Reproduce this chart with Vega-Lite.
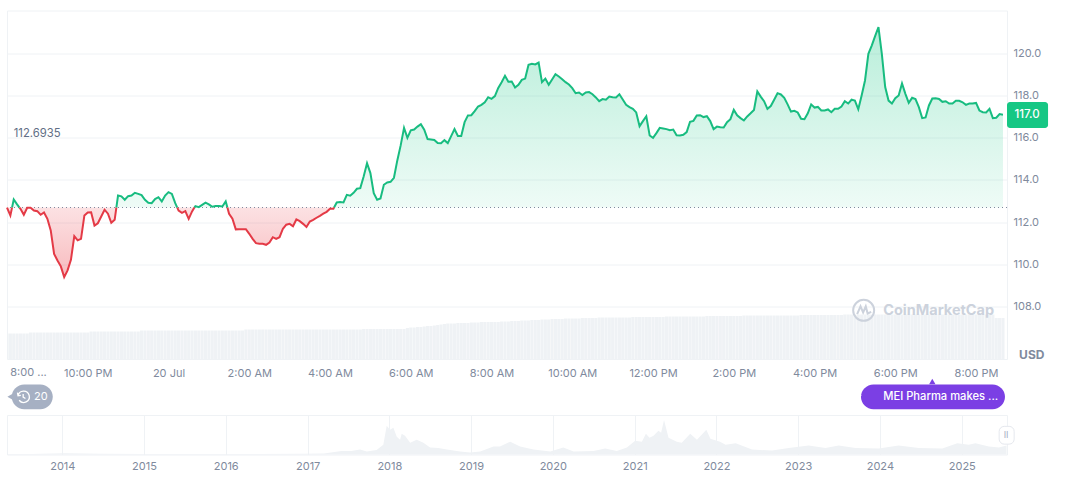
{
"$schema":"https://vega.github.io/schema/vega-lite/v6.json",
"padding":{"left":2,"top":9.5,"right":0,"bottom":0},
"background":"#ffffff",
"bounds":"flush",
"spacing":55.5,
"config":{"view":{"stroke":"#eff2f5"},"text":{"font":"Inter"},"axis":{"labelFont":"Inter","labelFontSize":11,"labelColor":"#808a9d","title":null,"ticks":false,"domain":false}},
"datasets":{
"price":[
{"t":"2025-07-19T20:00Z","up":112.69,"down":112.69,"vol":25.5},
{"t":"2025-07-19T20:05Z","down":112.32,"vol":25.5},
{"t":"2025-07-19T20:07:30Z","up":112.69,"down":112.69},
{"t":"2025-07-19T20:10Z","up":113.07,"vol":25.5},
{"t":"2025-07-19T20:15Z","up":112.84,"vol":25.5},
{"t":"2025-07-19T20:18:30Z","up":112.69,"down":112.69},
{"t":"2025-07-19T20:20Z","down":112.63,"vol":25.5},
{"t":"2025-07-19T20:25Z","down":112.35,"vol":25.5},
{"t":"2025-07-19T20:30Z","down":112.68,"vol":25.5},
{"t":"2025-07-19T20:35Z","down":112.68,"vol":26.5},
{"t":"2025-07-19T20:40Z","down":112.55,"vol":26.5},
{"t":"2025-07-19T20:45Z","down":112.52,"vol":26.5},
{"t":"2025-07-19T20:50Z","down":112.35,"vol":26.5},
{"t":"2025-07-19T20:55Z","down":112.46,"vol":26.5},
{"t":"2025-07-19T21:00Z","down":112.16,"vol":26.5},
{"t":"2025-07-19T21:05Z","down":111.61,"vol":26.5},
{"t":"2025-07-19T21:10Z","down":110.5,"vol":26.5},
{"t":"2025-07-19T21:15Z","down":110.19,"vol":26.5},
{"t":"2025-07-19T21:20Z","down":109.91,"vol":26.5},
{"t":"2025-07-19T21:25Z","down":109.4,"vol":26.5},
{"t":"2025-07-19T21:30Z","down":109.72,"vol":26.5},
{"t":"2025-07-19T21:35Z","down":110.22,"vol":26.5},
{"t":"2025-07-19T21:40Z","down":111.34,"vol":26.5},
{"t":"2025-07-19T21:45Z","down":111.14,"vol":26.5},
{"t":"2025-07-19T21:50Z","down":111.21,"vol":26.5},
{"t":"2025-07-19T21:55Z","down":112.32,"vol":26.5},
{"t":"2025-07-19T22:00Z","down":112.46,"vol":26.5},
{"t":"2025-07-19T22:05Z","down":112.47,"vol":27.5},
{"t":"2025-07-19T22:10Z","down":111.84,"vol":27.5},
{"t":"2025-07-19T22:15Z","down":111.95,"vol":27.5},
{"t":"2025-07-19T22:20Z","down":112.27,"vol":27.5},
{"t":"2025-07-19T22:25Z","down":112.59,"vol":27.5},
{"t":"2025-07-19T22:30Z","down":112.4,"vol":27.5},
{"t":"2025-07-19T22:35Z","down":111.97,"vol":27.5},
{"t":"2025-07-19T22:40Z","down":112.11,"vol":27.5},
{"t":"2025-07-19T22:42:30Z","up":112.69,"down":112.69},
{"t":"2025-07-19T22:45Z","up":113.26,"vol":27.5},
{"t":"2025-07-19T22:50Z","up":113.22,"vol":27.5},
{"t":"2025-07-19T22:55Z","up":113.06,"vol":27.5},
{"t":"2025-07-19T23:00Z","up":113.23,"vol":27.5},
{"t":"2025-07-19T23:05Z","up":113.26,"vol":27.5},
{"t":"2025-07-19T23:10Z","up":113.39,"vol":27.5},
{"t":"2025-07-19T23:15Z","up":113.34,"vol":27.5},
{"t":"2025-07-19T23:20Z","up":113.28,"vol":28.5},
{"t":"2025-07-19T23:25Z","up":113.06,"vol":28.5},
{"t":"2025-07-19T23:30Z","up":112.92,"vol":28.5},
{"t":"2025-07-19T23:35Z","up":112.9,"vol":28.5},
{"t":"2025-07-19T23:40Z","up":113.09,"vol":28.5},
{"t":"2025-07-19T23:45Z","up":113.18,"vol":28.5},
{"t":"2025-07-19T23:50Z","up":112.98,"vol":28.5},
{"t":"2025-07-19T23:55Z","up":113.26,"vol":28.5},
{"t":"2025-07-20T00:00Z","up":113.42,"vol":28.5},
{"t":"2025-07-20T00:05Z","up":113.34,"vol":28.5},
{"t":"2025-07-20T00:10Z","up":112.9,"vol":28.5},
{"t":"2025-07-20T00:13Z","up":112.69,"down":112.69},
{"t":"2025-07-20T00:15Z","down":112.55,"vol":28.5},
{"t":"2025-07-20T00:20Z","down":112.44,"vol":28.5},
{"t":"2025-07-20T00:25Z","down":112.52,"vol":28.5},
{"t":"2025-07-20T00:30Z","down":112.16,"vol":28.5},
{"t":"2025-07-20T00:35Z","down":112.51,"vol":28.5},
{"t":"2025-07-20T00:38:30Z","up":112.69,"down":112.69},
{"t":"2025-07-20T00:40Z","up":112.76,"vol":28.5},
{"t":"2025-07-20T00:45Z","up":112.71,"vol":28.5},
{"t":"2025-07-20T00:50Z","up":112.82,"vol":28.5},
{"t":"2025-07-20T00:55Z","up":112.92,"vol":28.5},
{"t":"2025-07-20T01:00Z","up":112.84,"vol":28.5},
{"t":"2025-07-20T01:05Z","up":112.73,"vol":28.5},
{"t":"2025-07-20T01:10Z","up":112.76,"vol":28.5},
{"t":"2025-07-20T01:15Z","up":112.76,"vol":28.5},
{"t":"2025-07-20T01:20Z","up":112.74,"vol":28.5},
{"t":"2025-07-20T01:25Z","up":112.98,"vol":28.5},
{"t":"2025-07-20T01:27:30Z","up":112.69,"down":112.69},
{"t":"2025-07-20T01:30Z","down":112.4,"vol":28.5},
{"t":"2025-07-20T01:35Z","down":112.16,"vol":28.5},
{"t":"2025-07-20T01:40Z","down":111.66,"vol":28.5},
{"t":"2025-07-20T01:45Z","down":111.67,"vol":28.5},
{"t":"2025-07-20T01:50Z","down":111.67,"vol":28.5},
{"t":"2025-07-20T01:55Z","down":111.67,"vol":29.5},
{"t":"2025-07-20T02:00Z","down":111.45,"vol":29.5},
{"t":"2025-07-20T02:05Z","down":111.21,"vol":29.5},
{"t":"2025-07-20T02:10Z","down":111.01,"vol":29.5},
{"t":"2025-07-20T02:15Z","down":110.98,"vol":29.5},
{"t":"2025-07-20T02:20Z","down":110.98,"vol":29.5},
{"t":"2025-07-20T02:25Z","down":110.93,"vol":29.5},
{"t":"2025-07-20T02:30Z","down":111.04,"vol":29.5},
{"t":"2025-07-20T02:35Z","down":111.29,"vol":29.5},
{"t":"2025-07-20T02:40Z","down":111.21,"vol":29.5},
{"t":"2025-07-20T02:45Z","down":111.29,"vol":29.5},
{"t":"2025-07-20T02:50Z","down":111.69,"vol":29.5},
{"t":"2025-07-20T02:55Z","down":111.88,"vol":29.5},
{"t":"2025-07-20T03:00Z","down":111.92,"vol":29.5},
{"t":"2025-07-20T03:05Z","down":111.81,"vol":29.5},
{"t":"2025-07-20T03:10Z","down":112.13,"vol":29.5},
{"t":"2025-07-20T03:15Z","down":112.05,"vol":29.5},
{"t":"2025-07-20T03:20Z","down":111.92,"vol":29.5},
{"t":"2025-07-20T03:25Z","down":111.77,"vol":29.5},
{"t":"2025-07-20T03:30Z","down":112.03,"vol":29.5},
{"t":"2025-07-20T03:35Z","down":112.11,"vol":29.5},
{"t":"2025-07-20T03:40Z","down":112.21,"vol":29.5},
{"t":"2025-07-20T03:45Z","down":112.3,"vol":29.5},
{"t":"2025-07-20T03:50Z","down":112.4,"vol":29.5},
{"t":"2025-07-20T03:55Z","down":112.49,"vol":29.5},
{"t":"2025-07-20T04:00Z","down":112.63,"vol":29.5},
{"t":"2025-07-20T04:05Z","down":112.63,"vol":29.5},
{"t":"2025-07-20T04:06Z","up":112.69,"down":112.69},
{"t":"2025-07-20T04:10Z","up":112.93,"vol":29.5},
{"t":"2025-07-20T04:15Z","up":112.95,"vol":29.5},
{"t":"2025-07-20T04:20Z","up":112.93,"vol":29.5},
{"t":"2025-07-20T04:25Z","up":113.29,"vol":29.5},
{"t":"2025-07-20T04:30Z","up":113.25,"vol":29.5},
{"t":"2025-07-20T04:35Z","up":113.39,"vol":29.5},
{"t":"2025-07-20T04:40Z","up":113.58,"vol":29.5},
{"t":"2025-07-20T04:45Z","up":113.61,"vol":29.5},
{"t":"2025-07-20T04:50Z","up":114.16,"vol":30},
{"t":"2025-07-20T04:55Z","up":114.79,"vol":30},
{"t":"2025-07-20T05:00Z","up":114.32,"vol":30},
{"t":"2025-07-20T05:05Z","up":113.37,"vol":30},
{"t":"2025-07-20T05:10Z","up":113.06,"vol":30},
{"t":"2025-07-20T05:15Z","up":113.12,"vol":30},
{"t":"2025-07-20T05:20Z","up":113.77,"vol":30},
{"t":"2025-07-20T05:25Z","up":113.88,"vol":30},
{"t":"2025-07-20T05:30Z","up":113.91,"vol":30},
{"t":"2025-07-20T05:35Z","up":114.1,"vol":30},
{"t":"2025-07-20T05:40Z","up":114.92,"vol":30},
{"t":"2025-07-20T05:45Z","up":115.63,"vol":30},
{"t":"2025-07-20T05:50Z","up":116.46,"vol":30},
{"t":"2025-07-20T05:55Z","up":115.99,"vol":31},
{"t":"2025-07-20T06:00Z","up":116.34,"vol":31.5},
{"t":"2025-07-20T06:05Z","up":116.38,"vol":31.5},
{"t":"2025-07-20T06:10Z","up":116.52,"vol":32},
{"t":"2025-07-20T06:15Z","up":116.63,"vol":32},
{"t":"2025-07-20T06:20Z","up":116.37,"vol":32.5},
{"t":"2025-07-20T06:25Z","up":115.93,"vol":33},
{"t":"2025-07-20T06:30Z","up":115.91,"vol":33},
{"t":"2025-07-20T06:35Z","up":115.89,"vol":33.5},
{"t":"2025-07-20T06:40Z","up":115.74,"vol":34},
{"t":"2025-07-20T06:45Z","up":115.73,"vol":34.5},
{"t":"2025-07-20T06:50Z","up":115.88,"vol":35},
{"t":"2025-07-20T06:55Z","up":115.74,"vol":35.5},
{"t":"2025-07-20T07:00Z","up":116.07,"vol":35.5},
{"t":"2025-07-20T07:05Z","up":116.4,"vol":35.5},
{"t":"2025-07-20T07:10Z","up":116.08,"vol":36},
{"t":"2025-07-20T07:15Z","up":116.08,"vol":36},
{"t":"2025-07-20T07:20Z","up":116.73,"vol":36},
{"t":"2025-07-20T07:25Z","up":117.05,"vol":36},
{"t":"2025-07-20T07:30Z","up":117.06,"vol":36.5},
{"t":"2025-07-20T07:35Z","up":117.25,"vol":36.5},
{"t":"2025-07-20T07:40Z","up":117.47,"vol":36.5},
{"t":"2025-07-20T07:45Z","up":117.55,"vol":37},
{"t":"2025-07-20T07:50Z","up":117.67,"vol":37},
{"t":"2025-07-20T07:55Z","up":117.91,"vol":37},
{"t":"2025-07-20T08:00Z","up":117.83,"vol":37},
{"t":"2025-07-20T08:05Z","up":117.96,"vol":37},
{"t":"2025-07-20T08:10Z","up":118.35,"vol":37},
{"t":"2025-07-20T08:15Z","up":118.62,"vol":37.5},
{"t":"2025-07-20T08:20Z","up":118.92,"vol":37.5},
{"t":"2025-07-20T08:25Z","up":118.64,"vol":37.5},
{"t":"2025-07-20T08:30Z","up":118.65,"vol":38},
{"t":"2025-07-20T08:35Z","up":118.37,"vol":38},
{"t":"2025-07-20T08:40Z","up":118.5,"vol":38},
{"t":"2025-07-20T08:45Z","up":118.73,"vol":38.5},
{"t":"2025-07-20T08:50Z","up":118.79,"vol":38.5},
{"t":"2025-07-20T08:55Z","up":119.44,"vol":38.5},
{"t":"2025-07-20T09:00Z","up":119.49,"vol":39},
{"t":"2025-07-20T09:05Z","up":119.46,"vol":39},
{"t":"2025-07-20T09:10Z","up":119.55,"vol":39},
{"t":"2025-07-20T09:15Z","up":118.62,"vol":39.5},
{"t":"2025-07-20T09:20Z","up":118.79,"vol":39.5},
{"t":"2025-07-20T09:25Z","up":118.5,"vol":39.5},
{"t":"2025-07-20T09:30Z","up":118.75,"vol":40},
{"t":"2025-07-20T09:35Z","up":119.0,"vol":40},
{"t":"2025-07-20T09:40Z","up":118.89,"vol":40},
{"t":"2025-07-20T09:45Z","up":118.76,"vol":40},
{"t":"2025-07-20T09:50Z","up":118.62,"vol":40.5},
{"t":"2025-07-20T09:55Z","up":118.51,"vol":40.5},
{"t":"2025-07-20T10:00Z","up":118.34,"vol":40.5},
{"t":"2025-07-20T10:05Z","up":118.1,"vol":40.5},
{"t":"2025-07-20T10:10Z","up":118.13,"vol":40.5},
{"t":"2025-07-20T10:15Z","up":118.01,"vol":41},
{"t":"2025-07-20T10:20Z","up":118.13,"vol":41},
{"t":"2025-07-20T10:25Z","up":118.15,"vol":41},
{"t":"2025-07-20T10:30Z","up":118.05,"vol":41},
{"t":"2025-07-20T10:35Z","up":117.9,"vol":41},
{"t":"2025-07-20T10:40Z","up":117.72,"vol":41.5},
{"t":"2025-07-20T10:45Z","up":117.82,"vol":41.5},
{"t":"2025-07-20T10:50Z","up":117.79,"vol":41.5},
{"t":"2025-07-20T10:55Z","up":117.94,"vol":41.5},
{"t":"2025-07-20T11:00Z","up":117.91,"vol":41.5},
{"t":"2025-07-20T11:05Z","up":117.9,"vol":41.5},
{"t":"2025-07-20T11:10Z","up":118.05,"vol":41.5},
{"t":"2025-07-20T11:15Z","up":117.8,"vol":41.5},
{"t":"2025-07-20T11:20Z","up":117.55,"vol":41.5},
{"t":"2025-07-20T11:25Z","up":117.44,"vol":41.5},
{"t":"2025-07-20T11:30Z","up":117.36,"vol":42},
{"t":"2025-07-20T11:35Z","up":117.19,"vol":42},
{"t":"2025-07-20T11:40Z","up":116.54,"vol":42},
{"t":"2025-07-20T11:45Z","up":116.78,"vol":42},
{"t":"2025-07-20T11:50Z","up":117.01,"vol":42},
{"t":"2025-07-20T11:55Z","up":116.1,"vol":42},
{"t":"2025-07-20T12:00Z","up":115.99,"vol":42},
{"t":"2025-07-20T12:05Z","up":116.21,"vol":42},
{"t":"2025-07-20T12:10Z","up":116.46,"vol":42},
{"t":"2025-07-20T12:15Z","up":116.43,"vol":42},
{"t":"2025-07-20T12:20Z","up":116.4,"vol":42.5},
{"t":"2025-07-20T12:25Z","up":116.35,"vol":42.5},
{"t":"2025-07-20T12:30Z","up":116.38,"vol":42.5},
{"t":"2025-07-20T12:35Z","up":116.11,"vol":42.5},
{"t":"2025-07-20T12:40Z","up":116.1,"vol":42.5},
{"t":"2025-07-20T12:45Z","up":116.13,"vol":42.5},
{"t":"2025-07-20T12:50Z","up":116.26,"vol":42.5},
{"t":"2025-07-20T12:55Z","up":116.75,"vol":42.5},
{"t":"2025-07-20T13:00Z","up":116.79,"vol":42.5},
{"t":"2025-07-20T13:05Z","up":117.05,"vol":42.5},
{"t":"2025-07-20T13:10Z","up":117.06,"vol":42.5},
{"t":"2025-07-20T13:15Z","up":116.97,"vol":42.5},
{"t":"2025-07-20T13:20Z","up":117.01,"vol":43},
{"t":"2025-07-20T13:25Z","up":116.78,"vol":43},
{"t":"2025-07-20T13:30Z","up":116.4,"vol":43},
{"t":"2025-07-20T13:35Z","up":116.52,"vol":43},
{"t":"2025-07-20T13:40Z","up":116.49,"vol":43},
{"t":"2025-07-20T13:45Z","up":116.48,"vol":43},
{"t":"2025-07-20T13:50Z","up":116.73,"vol":43},
{"t":"2025-07-20T13:55Z","up":116.87,"vol":43},
{"t":"2025-07-20T14:00Z","up":117.31,"vol":43},
{"t":"2025-07-20T14:05Z","up":117.05,"vol":43},
{"t":"2025-07-20T14:10Z","up":116.92,"vol":43},
{"t":"2025-07-20T14:15Z","up":116.81,"vol":43.5},
{"t":"2025-07-20T14:20Z","up":117.0,"vol":43.5},
{"t":"2025-07-20T14:25Z","up":117.15,"vol":43.5},
{"t":"2025-07-20T14:30Z","up":117.31,"vol":43.5},
{"t":"2025-07-20T14:35Z","up":118.18,"vol":43.5},
{"t":"2025-07-20T14:40Z","up":117.94,"vol":43.5},
{"t":"2025-07-20T14:45Z","up":117.72,"vol":43.5},
{"t":"2025-07-20T14:50Z","up":117.36,"vol":43.5},
{"t":"2025-07-20T14:55Z","up":117.49,"vol":43.5},
{"t":"2025-07-20T15:00Z","up":117.79,"vol":43.5},
{"t":"2025-07-20T15:05Z","up":118.1,"vol":43.5},
{"t":"2025-07-20T15:10Z","up":118.04,"vol":43.5},
{"t":"2025-07-20T15:15Z","up":117.88,"vol":43.5},
{"t":"2025-07-20T15:20Z","up":117.57,"vol":43.5},
{"t":"2025-07-20T15:25Z","up":117.23,"vol":43.5},
{"t":"2025-07-20T15:30Z","up":117.27,"vol":43.5},
{"t":"2025-07-20T15:35Z","up":117.19,"vol":43.5},
{"t":"2025-07-20T15:40Z","up":116.89,"vol":44},
{"t":"2025-07-20T15:45Z","up":116.87,"vol":44},
{"t":"2025-07-20T15:50Z","up":117.15,"vol":44},
{"t":"2025-07-20T15:55Z","up":117.57,"vol":44},
{"t":"2025-07-20T16:00Z","up":117.42,"vol":44},
{"t":"2025-07-20T16:05Z","up":117.45,"vol":44},
{"t":"2025-07-20T16:10Z","up":117.28,"vol":44},
{"t":"2025-07-20T16:15Z","up":117.28,"vol":44},
{"t":"2025-07-20T16:20Z","up":117.33,"vol":44},
{"t":"2025-07-20T16:25Z","up":117.2,"vol":44},
{"t":"2025-07-20T16:30Z","up":117.36,"vol":44},
{"t":"2025-07-20T16:35Z","up":117.36,"vol":44},
{"t":"2025-07-20T16:40Z","up":117.47,"vol":44},
{"t":"2025-07-20T16:45Z","up":117.72,"vol":44.5},
{"t":"2025-07-20T16:50Z","up":117.61,"vol":44.5},
{"t":"2025-07-20T16:55Z","up":117.79,"vol":44.5},
{"t":"2025-07-20T17:00Z","up":117.75,"vol":44.5},
{"t":"2025-07-20T17:05Z","up":117.34,"vol":44.5},
{"t":"2025-07-20T17:10Z","up":117.99,"vol":44.5},
{"t":"2025-07-20T17:15Z","up":118.7,"vol":44.5},
{"t":"2025-07-20T17:20Z","up":119.96,"vol":44.5},
{"t":"2025-07-20T17:25Z","up":120.35,"vol":44.5},
{"t":"2025-07-20T17:30Z","up":120.8,"vol":44.5},
{"t":"2025-07-20T17:35Z","up":121.22,"vol":44.5},
{"t":"2025-07-20T17:40Z","up":119.96,"vol":44.5},
{"t":"2025-07-20T17:45Z","up":118.39,"vol":44.5},
{"t":"2025-07-20T17:50Z","up":117.75,"vol":44.5},
{"t":"2025-07-20T17:55Z","up":117.61,"vol":44.5},
{"t":"2025-07-20T18:00Z","up":117.86,"vol":44.5},
{"t":"2025-07-20T18:05Z","up":117.99,"vol":44.5},
{"t":"2025-07-20T18:10Z","up":118.56,"vol":44.5},
{"t":"2025-07-20T18:15Z","up":118.07,"vol":44.5},
{"t":"2025-07-20T18:20Z","up":117.64,"vol":44.5},
{"t":"2025-07-20T18:25Z","up":117.88,"vol":44.5},
{"t":"2025-07-20T18:30Z","up":117.82,"vol":44.5},
{"t":"2025-07-20T18:35Z","up":117.44,"vol":44.5},
{"t":"2025-07-20T18:40Z","up":116.92,"vol":44.5},
{"t":"2025-07-20T18:45Z","up":116.95,"vol":44.5},
{"t":"2025-07-20T18:50Z","up":117.52,"vol":44.5},
{"t":"2025-07-20T18:55Z","up":117.85,"vol":44.5},
{"t":"2025-07-20T19:00Z","up":117.86,"vol":44.5},
{"t":"2025-07-20T19:05Z","up":117.83,"vol":44.5},
{"t":"2025-07-20T19:10Z","up":117.69,"vol":44.5},
{"t":"2025-07-20T19:15Z","up":117.72,"vol":44.5},
{"t":"2025-07-20T19:20Z","up":117.61,"vol":44.5},
{"t":"2025-07-20T19:25Z","up":117.61,"vol":44.5},
{"t":"2025-07-20T19:30Z","up":117.74,"vol":44.5},
{"t":"2025-07-20T19:35Z","up":117.74,"vol":44.5},
{"t":"2025-07-20T19:40Z","up":117.67,"vol":44.5},
{"t":"2025-07-20T19:45Z","up":117.55,"vol":44.5},
{"t":"2025-07-20T19:50Z","up":117.61,"vol":44.5},
{"t":"2025-07-20T19:55Z","up":117.61,"vol":44.5},
{"t":"2025-07-20T20:00Z","up":117.64,"vol":44.5},
{"t":"2025-07-20T20:05Z","up":117.28,"vol":44.5},
{"t":"2025-07-20T20:10Z","up":117.2,"vol":44.5},
{"t":"2025-07-20T20:15Z","up":117.19,"vol":44.5},
{"t":"2025-07-20T20:20Z","up":117.36,"vol":44.5},
{"t":"2025-07-20T20:25Z","up":116.92,"vol":44.5},
{"t":"2025-07-20T20:30Z","up":116.94,"vol":41},
{"t":"2025-07-20T20:35Z","up":117.11,"vol":41},
{"t":"2025-07-20T20:40Z","up":117.08,"vol":41}
],
"history":[
{"d":"2013-04-29","v":0.4},{"d":"2013-08-15","v":0.6},{"d":"2014-01-15","v":1.2},{"d":"2014-06-15","v":0.8},{"d":"2015-01-15","v":0.6},{"d":"2016-01-15","v":0.5},{"d":"2016-12-15","v":0.7},{"d":"2017-03-15","v":1},{"d":"2017-05-01","v":2.5},{"d":"2017-06-01","v":3.5},{"d":"2017-07-15","v":3.5},
{"d":"2017-08-23","v":5},{"d":"2017-09-22","v":3},{"d":"2017-11-05","v":4.5},{"d":"2017-12-05","v":10},{"d":"2017-12-20","v":29},{"d":"2018-01-04","v":25},{"d":"2018-01-19","v":27},{"d":"2018-02-03","v":18},{"d":"2018-02-18","v":15},{"d":"2018-02-25","v":21},{"d":"2018-03-12","v":19},{"d":"2018-04-04","v":12},{"d":"2018-05-03","v":15},{"d":"2018-06-02","v":12},{"d":"2018-07-02","v":7},{"d":"2018-08-08","v":6.5},{"d":"2018-09-15","v":5},{"d":"2018-11-13","v":3},{"d":"2018-12-27","v":2},{"d":"2019-02-11","v":3},{"d":"2019-04-11","v":8},{"d":"2019-05-10","v":8},{"d":"2019-06-25","v":13},{"d":"2019-08-08","v":8},{"d":"2019-10-07","v":5},{"d":"2019-12-21","v":3},{"d":"2020-02-17","v":7},{"d":"2020-04-03","v":3},{"d":"2020-07-01","v":3.5},{"d":"2020-08-22","v":6},{"d":"2020-10-13","v":3.5},{"d":"2020-11-27","v":7},{"d":"2021-01-03","v":14},{"d":"2021-02-02","v":13},{"d":"2021-02-20","v":21},{"d":"2021-03-08","v":17},{"d":"2021-03-26","v":19},{"d":"2021-04-17","v":24},{"d":"2021-04-29","v":22},{"d":"2021-05-12","v":35},{"d":"2021-06-01","v":17},{"d":"2021-07-08","v":13},{"d":"2021-07-30","v":12},{"d":"2021-09-06","v":21},{"d":"2021-10-06","v":15},{"d":"2021-11-17","v":25},{"d":"2021-12-05","v":16},{"d":"2022-01-17","v":13},
{"d":"2022-02-11","v":10},{"d":"2022-03-28","v":11.5},{"d":"2022-06-09","v":5},{"d":"2022-09-07","v":4},{"d":"2022-11-20","v":6.5},{"d":"2023-02-17","v":9},{"d":"2023-05-03","v":6.5},{"d":"2023-07-01","v":9},{"d":"2023-09-14","v":6.5},{"d":"2023-12-27","v":6},{"d":"2024-03-25","v":9},{"d":"2024-06-23","v":6.5},{"d":"2024-10-06","v":6},{"d":"2024-12-12","v":11.5},{"d":"2025-02-01","v":10},{"d":"2025-03-03","v":11.5},{"d":"2025-05-02","v":8},{"d":"2025-06-16","v":7},{"d":"2025-07-20","v":9}
]
},
"vconcat":[
{
"width":1000,"height":348.5,
"data":{"name":"price"},
"encoding":{"x":{"field":"t","type":"temporal","scale":{"type":"utc","padding":0,"domain":["2025-07-19T20:00:00Z","2025-07-20T20:46:00Z"]},"axis":{"grid":false,"labelPadding":8,"labelBaseline":"top","values":["2025-07-19T22:00:00Z","2025-07-20T00:00:00Z","2025-07-20T02:00:00Z","2025-07-20T04:00:00Z","2025-07-20T06:00:00Z","2025-07-20T08:00:00Z","2025-07-20T10:00:00Z","2025-07-20T12:00:00Z","2025-07-20T14:00:00Z","2025-07-20T16:00:00Z","2025-07-20T18:00:00Z","2025-07-20T20:00:00Z"],"labelExpr":"utchours(datum.value)==0?'20 Jul':utcFormat(datum.value,'%-I:%M %p')"}}},
"resolve":{"scale":{"y":"independent"},"axis":{"y":"independent"}},
"layer":[
{"mark":{"type":"area","color":{"gradient":"linear","x1":0,"y1":0,"x2":0,"y2":1,"stops":[{"offset":0,"color":"rgba(22,199,132,0.3)"},{"offset":1,"color":"rgba(22,199,132,0.07)"}]}},
 "encoding":{"y":{"field":"up","type":"quantitative","scale":{"domain":[105.53,122.01],"nice":false,"zero":false},"axis":{"orient":"right","values":[108,110,112,114,116,118,120],"format":".1f","grid":true,"gridColor":"#eff2f5","labelPadding":6}},"y2":{"datum":112.6935}}},
{"mark":{"type":"bar","size":3.1,"color":"#eff2f5","clip":true},"encoding":{"y":{"field":"vol","type":"quantitative","scale":{"domain":[0,348.5]},"axis":null}}},
{"layer":[
{"mark":{"type":"area","color":{"gradient":"linear","x1":0,"y1":0,"x2":0,"y2":1,"stops":[{"offset":0,"color":"rgba(234,57,67,0.15)"},{"offset":1,"color":"rgba(234,57,67,0.34)"}]}},
 "encoding":{"y":{"field":"down","type":"quantitative","scale":{"domain":[105.53,122.01],"nice":false,"zero":false},"axis":null},"y2":{"datum":112.6935}}},
{"data":{"values":[{"base":112.6935}]},"mark":{"type":"rule","color":"#808a9d","strokeDash":[1,3],"strokeWidth":1},"encoding":{"x":null,"y":{"field":"base","type":"quantitative","axis":null}}},
{"mark":{"type":"line","color":"#18bc80","strokeWidth":2},"encoding":{"y":{"field":"up","type":"quantitative","axis":null}}},
{"mark":{"type":"line","color":"#e43a46","strokeWidth":2},"encoding":{"y":{"field":"down","type":"quantitative","axis":null}}},
{"data":{"values":[{"t":"2025-07-20T20:46:00Z","t2":"2025-07-20T21:47:00Z","p":117.68,"p2":116.45}]},"mark":{"type":"rect","color":"#16c784","cornerRadius":3},"encoding":{"x2":{"field":"t2"},"y":{"field":"p","type":"quantitative","axis":null},"y2":{"field":"p2"}}},
{"data":{"values":[{"t":"2025-07-20T17:09:00Z","t2":"2025-07-20T20:43:00Z","p":104.33,"p2":103.15}]},"mark":{"type":"rect","color":"#7b3fe4","cornerRadius":12.5},"encoding":{"x2":{"field":"t2"},"y":{"field":"p","type":"quantitative","axis":null},"y2":{"field":"p2"}}},
{"data":{"values":[{"t":"2025-07-19T20:07:00Z","t2":"2025-07-19T21:08:00Z","p":104.33,"p2":103.15}]},"mark":{"type":"rect","color":"#a6b0c3","cornerRadius":12.5},"encoding":{"x2":{"field":"t2"},"y":{"field":"p","type":"quantitative","axis":null},"y2":{"field":"p2"}}},
{"data":{"values":[{"t":"2025-07-19T20:09:00Z","p":103.74}]},"mark":{"type":"point","shape":"triangle-left","filled":true,"color":"#a6b0c3","size":170,"opacity":1},"encoding":{"y":{"field":"p","type":"quantitative","axis":null}}},
{"data":{"values":[{"t":"2025-07-20T18:55:00Z","p":104.47}]},"mark":{"type":"point","shape":"triangle-up","filled":true,"color":"#7b3fe4","size":40,"opacity":1},"encoding":{"y":{"field":"p","type":"quantitative","axis":null}}},
{"data":{"values":[{"t":"2025-07-20T17:13:00Z","p":107.83}]},"mark":{"type":"point","shape":"M-1,0A1,1 0 1,1 1,0A1,1 0 1,1 -1,0Z M-0.62,0.35L-0.3,-0.38L-0.05,0.2L0.2,-0.38L0.38,0.3L0.72,0.15","filled":false,"color":"#ccd2dc","strokeWidth":2,"size":441,"opacity":1},"encoding":{"y":{"field":"p","type":"quantitative","axis":null}}},
{"data":{"values":[{"t":"2025-07-20T17:42:00Z","p":107.78,"label":"CoinMarketCap"}]},"mark":{"type":"text","align":"left","baseline":"middle","fontSize":14.5,"fontWeight":700,"color":"#ccd2dc"},"encoding":{"y":{"field":"p","type":"quantitative","axis":null},"text":{"field":"label"}}},
{"data":{"values":[{"t":"2025-07-20T17:01:00Z","p":103.74}]},"mark":{"type":"point","shape":"M0.2,-1L-0.75,0.2L-0.05,0.2L-0.2,1L0.75,-0.2L0.05,-0.2Z","filled":false,"color":"#ffffff","strokeWidth":1.3,"size":160,"opacity":1},"encoding":{"y":{"field":"p","type":"quantitative","axis":null}}},
{"data":{"values":[{"t":"2025-07-20T17:42:00Z","p":103.73,"label":"MEI Pharma makes ..."}]},"mark":{"type":"text","align":"left","baseline":"middle","fontSize":11.2,"fontWeight":500,"color":"#ffffff"},"encoding":{"y":{"field":"p","type":"quantitative","axis":null},"text":{"field":"label"}}},
{"data":{"values":[{"t":"2025-07-19T20:24:00Z","p":103.74}]},"mark":{"type":"point","shape":"M-0.9,-0.2A1,1 0 1,1 -0.7,0.6M0,-0.5L0,0.05L0.4,0.3M-1,-0.75L-0.9,-0.2L-0.4,-0.25","filled":false,"color":"#ffffff","strokeWidth":1.3,"size":130,"opacity":1},"encoding":{"y":{"field":"p","type":"quantitative","axis":null}}},
{"data":{"values":[{"t":"2025-07-19T20:40:00Z","p":103.73,"label":"20"}]},"mark":{"type":"text","align":"left","baseline":"middle","fontSize":11,"color":"#ffffff"},"encoding":{"y":{"field":"p","type":"quantitative","axis":null},"text":{"field":"label"}}},
{"data":{"values":[{"t":"2025-07-20T20:57:00Z","p":117.07,"label":"117.0"}]},"mark":{"type":"text","align":"left","baseline":"middle","fontSize":11.5,"fontWeight":500,"color":"#ffffff"},"encoding":{"y":{"field":"p","type":"quantitative","axis":null},"text":{"field":"label"}}},
{"data":{"values":[{"t":"2025-07-19T20:10:00Z","p":116.19,"label":"112.6935"}]},"mark":{"type":"text","align":"left","baseline":"middle","fontSize":11.3,"color":"#616e85"},"encoding":{"y":{"field":"p","type":"quantitative","axis":null},"text":{"field":"label"}}},
{"data":{"values":[{"t":"2025-07-19T20:32:00Z","p":104.85,"label":"8:00 ..."}]},"mark":{"type":"text","align":"center","baseline":"middle","fontSize":11,"color":"#808a9d"},"encoding":{"y":{"field":"p","type":"quantitative","axis":null},"text":{"field":"label"}}},
{"data":{"values":[{"t":"2025-07-20T21:04:00Z","p":105.7,"label":"USD"}]},"mark":{"type":"text","align":"left","baseline":"middle","fontSize":12,"fontWeight":700,"color":"#808a9d"},"encoding":{"y":{"field":"p","type":"quantitative","axis":null},"text":{"field":"label"}}}
]}
]
},
{
"width":1000,"height":39.5,
"encoding":{"x":{"field":"d","type":"temporal","scale":{"type":"utc","domain":["2013-04-29","2025-07-22"]},"axis":{"grid":true,"gridColor":"#eff2f5","labelPadding":6,"labelBaseline":"top","format":"%Y","values":["2014-01-01","2015-01-01","2016-01-01","2017-01-01","2018-01-01","2019-01-01","2020-01-01","2021-01-01","2022-01-01","2023-01-01","2024-01-01","2025-01-01"]}}},
"layer":[
{"data":{"name":"history"},"mark":{"type":"area","color":"#eff2f5"},"encoding":{"y":{"field":"v","type":"quantitative","scale":{"domain":[0,39.5]},"axis":null}}},
{"data":{"values":[{"d":"2025-06-17","d2":"2025-08-23","v":28.5,"v2":10.5}]},"mark":{"type":"rect","color":"#ffffff","stroke":"#e5e8ee","cornerRadius":5},"encoding":{"x2":{"field":"d2"},"y":{"field":"v","type":"quantitative"},"y2":{"field":"v2"}}},
{"data":{"values":[{"d":"2025-07-18","v":19.5,"label":"II"}]},"mark":{"type":"text","align":"center","baseline":"middle","fontSize":9,"color":"#a6b0c3"},"encoding":{"y":{"field":"v","type":"quantitative"},"text":{"field":"label"}}}
]
}
]
}
